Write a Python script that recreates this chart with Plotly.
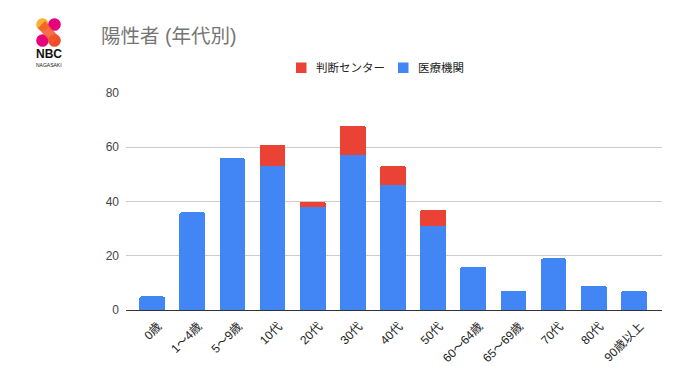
import plotly.graph_objects as go

categories = ["0歳", "1〜4歳", "5〜9歳", "10代", "20代", "30代", "40代", "50代",
              "60〜64歳", "65〜69歳", "70代", "80代", "90歳以上"]
iryo = [5, 36, 56, 53, 38, 57, 46, 31, 16, 7, 19, 9, 7]
handan = [0, 0, 0, 8, 2, 11, 7, 6, 0, 0, 0, 0, 0]
yticks = [0, 20, 40, 60, 80]
series_names = ["判断センター", "医療機関"]
series_colors = ["#EA4335", "#4285F4"]

W, H = 680, 382
L, R, T, B = 126, 18, 93, 72
PW, PH = W - L - R, H - T - B

def xp(px):
    return (px - L) / PW

def yp(py):
    return (H - B - py) / PH

FONT = "Arial, 'Liberation Sans', 'Noto Sans CJK JP', sans-serif"

fig = go.Figure()
fig.add_trace(go.Bar(x=list(range(len(categories))), y=iryo, name=series_names[1],
                     marker=dict(color=series_colors[1], line=dict(width=0)), width=0.64))
fig.add_trace(go.Bar(x=list(range(len(categories))), y=handan, name=series_names[0],
                     marker=dict(color=series_colors[0], line=dict(width=0)), width=0.64))

shapes = []
# logo circles
logo = [(42.5, 24.5, "#F9B233"), (54.5, 24.5, "#E6007E"), (42.5, 40.5, "#E6007E"), (54.5, 40.5, "#EE4B2B")]
for cx, cy, col in logo:
    r = 6.3
    shapes.append(dict(type="circle", xref="paper", yref="paper",
                       x0=xp(cx - r), x1=xp(cx + r), y0=yp(cy + r), y1=yp(cy - r),
                       fillcolor=col, line=dict(width=0), layer="above"))
shapes.append(dict(type="path", xref="paper", yref="paper",
                   path=f"M {xp(38)} {yp(28)} L {xp(45)} {yp(21)} L {xp(59)} {yp(37)} L {xp(52)} {yp(44)} Z",
                   fillcolor="#F2572A", line=dict(width=0), opacity=0.85, layer="above"))

# manual legend
legend_pos = [(296, 316), (398, 418)]
for (sx, tx), nm, col in zip(legend_pos, series_names, series_colors):
    shapes.append(dict(type="rect", xref="paper", yref="paper",
                       x0=xp(sx), x1=xp(sx + 10.5), y0=yp(73), y1=yp(62.5),
                       fillcolor=col, line=dict(width=0)))

annotations = [
    dict(text="陽性者 (年代別)", xref="paper", yref="paper", x=xp(99), y=yp(36),
         xanchor="left", yanchor="middle", showarrow=False,
         font=dict(size=19.5, color="#757575", family=FONT)),
    dict(text="<b>NBC</b>", xref="paper", yref="paper", x=xp(49), y=yp(54.5),
         xanchor="center", yanchor="middle", showarrow=False,
         font=dict(size=12, color="#111111", family=FONT)),
    dict(text="NAGASAKI", xref="paper", yref="paper", x=xp(49), y=yp(65),
         xanchor="center", yanchor="middle", showarrow=False,
         font=dict(size=5, color="#111111", family=FONT)),
]
for (sx, tx), nm in zip(legend_pos, series_names):
    annotations.append(dict(text=nm, xref="paper", yref="paper", x=xp(tx - 2), y=yp(68),
                            xanchor="left", yanchor="middle", showarrow=False,
                            font=dict(size=11.5, color="#222222", family=FONT)))

fig.update_layout(
    width=W, height=H,
    margin=dict(l=L, r=R, t=T, b=B),
    paper_bgcolor="white", plot_bgcolor="white",
    barmode="stack", barcornerradius=2,
    font=dict(family=FONT, size=12, color="#222222"),
    showlegend=False,
    xaxis=dict(tickmode="array", tickvals=list(range(len(categories))), ticktext=categories,
               range=[-0.65, 12.70], tickangle=-45, showgrid=False, zeroline=False,
               showline=False, ticks="", tickfont=dict(size=12, color="#222222"),
               ticklabelstandoff=6, ticklabelshift=6),
    yaxis=dict(range=[0, 80], tickvals=yticks, showgrid=True, gridcolor="#CCCCCC",
               gridwidth=1, zeroline=True, zerolinecolor="#333333", zerolinewidth=1,
               ticks="", tickfont=dict(size=12, color="#444444"), ticklabelstandoff=6),
    shapes=shapes,
    annotations=annotations,
)

fig.write_html("out.html")
